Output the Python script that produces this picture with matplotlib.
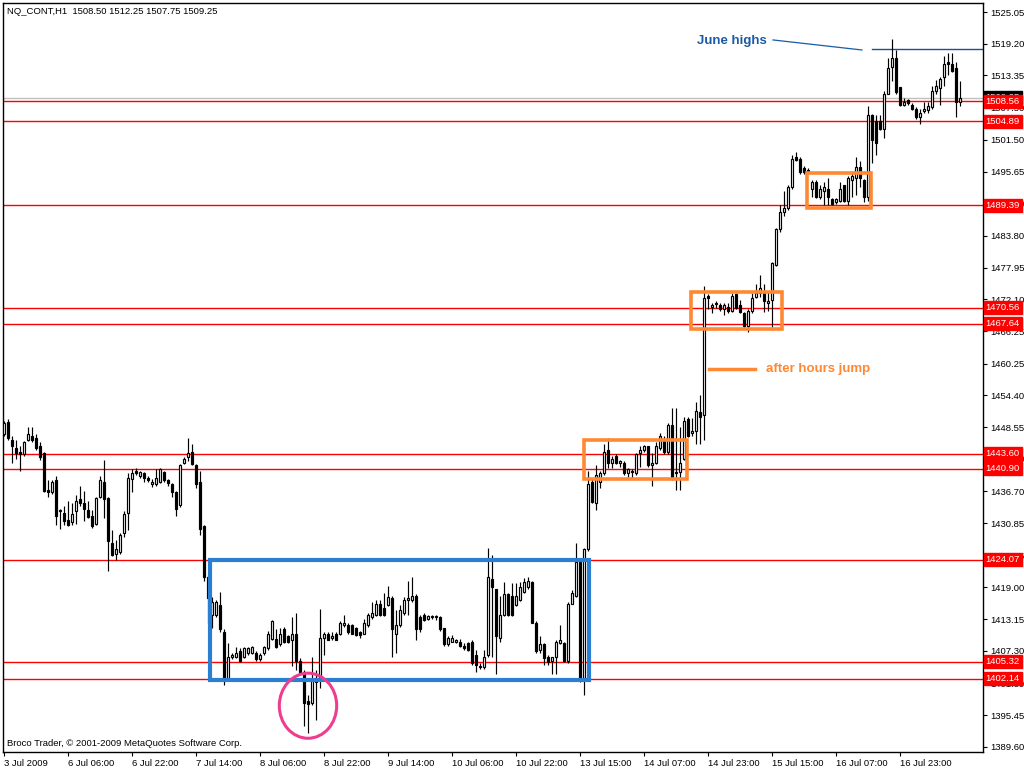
import numpy as np
import matplotlib
matplotlib.use('Agg')
import matplotlib.pyplot as plt
from matplotlib.patches import Rectangle, Ellipse

# hourly OHLC bars, oldest first
opens = [
    1447.25, 1449.5, 1446.25, 1444.75, 1444.0, 1443.5, 1446.25, 1447.0, 1446.5, 1445.0,
    1443.75, 1437.0, 1436.5, 1438.75, 1433.0, 1432.75, 1431.5, 1431.0, 1433.0, 1435.25,
    1434.5, 1433.25, 1432.25, 1430.75, 1435.75, 1438.5, 1435.5, 1427.25, 1425.25, 1425.5,
    1429.0, 1432.75, 1439.0, 1440.5, 1439.5, 1440.0, 1439.25, 1438.0, 1438.0, 1438.5,
    1440.25, 1438.75, 1438.0, 1436.5, 1434.25, 1442.0, 1443.0, 1444.0, 1441.5, 1438.5,
    1430.25, 1421.0, 1414.0, 1414.0, 1415.75, 1410.75, 1402.25, 1406.25, 1406.25, 1407.25,
    1406.25, 1407.0, 1407.0, 1407.0, 1405.75, 1407.0, 1407.75, 1409.5, 1409.5, 1408.5,
    1411.25, 1410.0, 1409.25, 1410.5, 1405.5, 1403.5, 1398.0, 1397.75, 1401.5, 1402.0,
    1409.75, 1410.5, 1409.75, 1410.5, 1410.5, 1412.0, 1412.0, 1412.0, 1411.5, 1410.75,
    1410.5, 1412.0, 1413.5, 1414.0, 1416.0, 1415.25, 1415.75, 1417.0, 1410.5, 1412.0,
    1414.25, 1416.75, 1416.75, 1417.5, 1413.5, 1414.0, 1413.25, 1413.5, 1413.5, 1413.5,
    1411.5, 1408.5, 1409.0, 1409.0, 1409.0, 1408.25, 1408.75, 1409.0, 1406.5, 1404.5,
    1404.25, 1406.5, 1420.5, 1418.75, 1409.75, 1414.0, 1417.75, 1417.5, 1415.75, 1416.75,
    1418.25, 1419.0, 1420.0, 1412.5, 1407.5, 1408.5, 1406.25, 1405.5, 1406.25, 1408.75,
    1408.75, 1405.5, 1416.0, 1417.5, 1423.75, 1402.25, 1426.0, 1438.5, 1434.5, 1438.5,
    1440.0, 1444.25, 1442.0, 1443.25, 1442.0, 1442.0, 1440.0, 1440.25, 1440.0, 1443.75,
    1444.25, 1445.0, 1441.5, 1442.0, 1444.75, 1446.0, 1444.0, 1449.0, 1440.0, 1440.25,
    1442.75, 1450.0, 1447.5, 1447.75, 1451.25, 1450.75, 1472.75, 1470.75, 1471.25, 1471.0,
    1470.25, 1470.75, 1470.0, 1473.0, 1471.0, 1469.5, 1467.25, 1470.0, 1472.5, 1473.25,
    1473.25, 1471.5, 1472.0, 1478.5, 1485.0, 1488.25, 1489.0, 1492.75, 1498.25, 1498.0,
    1496.25, 1496.0, 1492.5, 1493.75, 1491.0, 1492.0, 1492.5, 1490.5, 1490.0, 1490.25,
    1493.25, 1490.25, 1494.0, 1494.5, 1496.5, 1494.0, 1491.0, 1506.0, 1505.0, 1505.0,
    1503.5, 1510.0, 1515.0, 1516.5, 1511.25, 1508.0, 1508.75, 1508.0, 1507.25, 1505.75,
    1506.75, 1507.0, 1507.5, 1510.5, 1511.0, 1513.0, 1515.75, 1515.5, 1514.75, 1508.5,
]
highs = [
    1449.75, 1450.0, 1447.0, 1446.25, 1445.0, 1446.0, 1448.5, 1448.5, 1447.25, 1445.75,
    1444.0, 1438.75, 1438.75, 1439.5, 1433.5, 1434.0, 1435.0, 1434.5, 1436.0, 1437.75,
    1436.75, 1435.0, 1433.25, 1435.75, 1439.5, 1442.5, 1435.75, 1429.5, 1427.75, 1429.0,
    1433.0, 1440.0, 1440.75, 1441.0, 1440.5, 1440.25, 1439.5, 1439.0, 1440.75, 1441.0,
    1440.5, 1439.0, 1438.25, 1436.75, 1441.75, 1443.0, 1446.5, 1445.5, 1441.75, 1440.5,
    1430.5, 1421.25, 1417.25, 1416.75, 1418.25, 1411.25, 1408.75, 1407.0, 1408.0, 1407.75,
    1408.0, 1408.0, 1408.25, 1407.25, 1407.0, 1408.25, 1411.0, 1413.0, 1411.25, 1411.5,
    1411.75, 1410.25, 1413.5, 1414.25, 1406.0, 1403.75, 1399.25, 1406.25, 1403.75, 1415.0,
    1410.75, 1410.75, 1410.75, 1410.75, 1412.75, 1414.0, 1412.5, 1412.25, 1411.75, 1411.0,
    1413.25, 1414.25, 1416.25, 1416.75, 1416.75, 1418.0, 1419.25, 1417.5, 1414.75, 1415.75,
    1417.25, 1420.25, 1421.0, 1417.75, 1414.0, 1414.25, 1414.0, 1414.0, 1414.0, 1413.75,
    1411.5, 1410.0, 1410.25, 1409.5, 1409.5, 1408.75, 1409.0, 1409.25, 1407.5, 1405.0,
    1407.5, 1426.25, 1425.0, 1418.75, 1417.5, 1420.0, 1418.0, 1419.75, 1419.75, 1420.0,
    1420.75, 1421.0, 1420.25, 1412.75, 1410.0, 1408.75, 1406.5, 1406.25, 1409.25, 1412.0,
    1409.0, 1416.25, 1418.5, 1427.25, 1424.0, 1426.25, 1440.5, 1439.25, 1441.5, 1440.5,
    1445.5, 1446.5, 1443.25, 1443.5, 1442.5, 1442.25, 1441.0, 1440.75, 1443.75, 1445.0,
    1445.25, 1445.0, 1443.75, 1445.75, 1447.5, 1447.0, 1449.25, 1452.0, 1452.0, 1448.5,
    1450.5, 1450.5, 1450.25, 1453.25, 1454.5, 1474.5, 1473.0, 1471.5, 1471.75, 1471.5,
    1471.5, 1471.5, 1473.25, 1473.25, 1472.0, 1469.75, 1470.25, 1473.25, 1475.0, 1476.5,
    1475.0, 1473.5, 1479.0, 1485.25, 1489.5, 1492.0, 1493.25, 1498.75, 1499.25, 1498.25,
    1496.75, 1496.25, 1494.0, 1494.0, 1493.25, 1493.75, 1494.5, 1490.75, 1490.75, 1493.75,
    1493.25, 1494.75, 1495.5, 1498.25, 1497.5, 1494.25, 1507.75, 1506.25, 1506.0, 1506.0,
    1510.5, 1516.5, 1520.0, 1518.0, 1511.25, 1509.25, 1509.0, 1508.25, 1507.5, 1507.25,
    1508.5, 1508.5, 1511.5, 1512.5, 1513.0, 1517.0, 1517.5, 1517.5, 1515.75, 1512.25,
]
lows = [
    1447.0, 1446.25, 1442.0, 1442.75, 1440.5, 1443.25, 1446.0, 1445.75, 1444.25, 1442.5,
    1436.5, 1435.75, 1436.25, 1430.5, 1429.75, 1430.5, 1430.25, 1430.5, 1430.75, 1434.0,
    1431.25, 1431.75, 1430.0, 1430.5, 1435.5, 1431.75, 1422.0, 1424.75, 1424.0, 1425.25,
    1428.25, 1429.5, 1436.5, 1439.75, 1439.25, 1438.5, 1438.5, 1437.5, 1437.75, 1438.25,
    1438.5, 1437.75, 1435.75, 1432.25, 1433.75, 1441.75, 1442.25, 1441.5, 1437.25, 1428.75,
    1420.25, 1412.5, 1411.5, 1413.5, 1410.75, 1401.0, 1402.0, 1405.75, 1406.0, 1405.25,
    1406.0, 1406.5, 1406.75, 1405.5, 1405.5, 1406.5, 1407.5, 1409.25, 1407.75, 1408.25,
    1408.75, 1408.75, 1404.5, 1403.75, 1403.25, 1393.5, 1392.25, 1397.25, 1394.5, 1400.5,
    1406.5, 1409.25, 1409.25, 1409.25, 1410.25, 1411.75, 1410.5, 1410.5, 1410.0, 1409.75,
    1410.5, 1411.75, 1413.25, 1413.75, 1413.75, 1413.75, 1415.5, 1406.25, 1407.0, 1411.75,
    1414.0, 1414.0, 1416.25, 1409.25, 1410.75, 1412.75, 1413.0, 1413.25, 1413.0, 1411.0,
    1408.25, 1408.25, 1409.0, 1408.75, 1408.0, 1407.5, 1407.25, 1404.75, 1403.5, 1404.0,
    1404.0, 1406.25, 1406.25, 1403.0, 1409.0, 1413.75, 1413.75, 1413.75, 1415.5, 1416.5,
    1418.0, 1418.75, 1412.5, 1407.0, 1407.0, 1404.75, 1404.75, 1403.0, 1403.0, 1408.5,
    1405.25, 1405.0, 1416.0, 1417.25, 1401.5, 1399.25, 1425.75, 1434.5, 1433.25, 1437.25,
    1439.75, 1441.0, 1441.0, 1441.75, 1441.25, 1439.75, 1439.25, 1439.25, 1439.75, 1441.25,
    1444.0, 1441.25, 1437.75, 1441.75, 1444.25, 1443.5, 1443.5, 1438.75, 1437.0, 1437.0,
    1442.5, 1446.75, 1447.0, 1445.5, 1445.5, 1446.25, 1470.25, 1469.5, 1470.5, 1470.0,
    1469.25, 1469.5, 1469.75, 1470.25, 1469.5, 1467.0, 1466.0, 1469.5, 1472.25, 1472.5,
    1469.75, 1470.0, 1467.0, 1478.25, 1484.5, 1487.5, 1488.5, 1492.5, 1497.5, 1495.25,
    1495.25, 1495.25, 1491.0, 1490.75, 1490.5, 1489.5, 1489.5, 1489.5, 1489.75, 1490.0,
    1490.0, 1489.5, 1491.0, 1491.25, 1492.75, 1490.0, 1490.25, 1497.25, 1498.75, 1503.25,
    1501.75, 1510.0, 1512.25, 1510.0, 1507.75, 1507.75, 1508.0, 1507.0, 1505.25, 1504.5,
    1506.5, 1506.5, 1507.25, 1510.0, 1508.0, 1511.5, 1513.5, 1514.0, 1505.75, 1507.75,
]
closes = [
    1449.25, 1446.5, 1445.0, 1443.75, 1443.5, 1445.75, 1447.25, 1446.25, 1444.75, 1443.0,
    1436.75, 1436.5, 1438.5, 1432.25, 1433.25, 1431.25, 1430.5, 1432.5, 1435.0, 1434.5,
    1433.5, 1432.0, 1430.25, 1435.5, 1438.75, 1435.25, 1427.5, 1425.0, 1426.0, 1428.75,
    1432.5, 1439.25, 1440.0, 1440.0, 1440.25, 1439.25, 1438.75, 1438.5, 1439.25, 1440.75,
    1438.75, 1438.25, 1436.5, 1433.5, 1441.5, 1442.75, 1443.75, 1441.75, 1438.0, 1429.75,
    1421.0, 1417.0, 1416.25, 1416.25, 1411.25, 1402.25, 1406.25, 1406.5, 1407.0, 1405.5,
    1407.75, 1407.75, 1408.0, 1405.75, 1406.5, 1408.0, 1410.5, 1412.75, 1408.0, 1410.5,
    1409.0, 1409.0, 1410.5, 1405.5, 1403.5, 1397.75, 1397.5, 1402.0, 1402.25, 1409.75,
    1410.5, 1409.25, 1410.0, 1409.25, 1412.5, 1412.5, 1410.75, 1410.5, 1410.25, 1410.25,
    1412.5, 1414.0, 1414.25, 1416.0, 1414.0, 1414.0, 1417.25, 1411.25, 1412.0, 1414.75,
    1416.75, 1417.0, 1417.5, 1411.25, 1411.25, 1413.0, 1413.75, 1413.75, 1413.75, 1411.25,
    1408.5, 1409.75, 1409.75, 1409.25, 1408.25, 1407.75, 1407.5, 1405.0, 1404.75, 1404.25,
    1406.25, 1421.0, 1419.0, 1410.0, 1414.0, 1417.75, 1414.0, 1414.0, 1417.5, 1419.0,
    1420.0, 1420.25, 1412.5, 1407.25, 1408.5, 1406.0, 1405.25, 1406.25, 1409.0, 1409.25,
    1405.5, 1416.0, 1418.0, 1423.75, 1402.0, 1426.0, 1438.0, 1434.75, 1439.75, 1440.0,
    1444.0, 1442.0, 1442.75, 1442.0, 1442.25, 1440.0, 1440.75, 1440.5, 1443.5, 1444.25,
    1445.0, 1441.5, 1442.0, 1445.0, 1447.0, 1444.0, 1449.0, 1439.25, 1440.25, 1442.0,
    1449.75, 1447.0, 1447.75, 1451.5, 1450.5, 1472.25, 1472.25, 1471.0, 1471.5, 1470.25,
    1471.0, 1470.0, 1472.75, 1470.5, 1469.75, 1467.25, 1470.0, 1472.25, 1473.25, 1474.25,
    1471.75, 1471.75, 1478.75, 1485.0, 1488.25, 1489.0, 1492.75, 1498.0, 1497.75, 1495.5,
    1495.5, 1495.5, 1493.75, 1491.0, 1492.5, 1492.75, 1491.0, 1489.75, 1490.5, 1492.5,
    1490.25, 1494.5, 1494.75, 1496.5, 1494.5, 1491.0, 1506.0, 1501.5, 1501.0, 1503.5,
    1510.0, 1514.75, 1516.5, 1510.25, 1508.0, 1508.5, 1508.25, 1507.25, 1505.75, 1506.5,
    1507.25, 1507.75, 1510.5, 1511.5, 1512.75, 1515.5, 1515.5, 1514.25, 1508.5, 1509.25,
]

time_labels = ['3 Jul 2009', '6 Jul 06:00', '6 Jul 22:00', '7 Jul 14:00', '8 Jul 06:00',
               '8 Jul 22:00', '9 Jul 14:00', '10 Jul 06:00', '10 Jul 22:00', '13 Jul 15:00',
               '14 Jul 07:00', '14 Jul 23:00', '15 Jul 15:00', '16 Jul 07:00', '16 Jul 23:00']
price_ticks = [1525.05, 1519.20, 1513.35, 1507.50, 1501.50, 1495.65, 1489.80, 1483.80,
               1477.95, 1472.10, 1466.25, 1460.25, 1454.40, 1448.55, 1442.70, 1436.70,
               1430.85, 1424.85, 1419.00, 1413.15, 1407.30, 1401.30, 1395.45, 1389.60]
red_levels = [1508.56, 1504.89, 1489.39, 1470.56, 1467.64, 1443.60, 1440.90, 1424.07,
              1405.32, 1402.14]
june_high = 1518.17
last_price = 1509.25
header = 'NQ_CONT,H1  1508.50 1512.25 1507.75 1509.25'
footer = 'Broco Trader, \u00a9 2001-2009 MetaQuotes Software Corp.'

ORANGE = '#ff8833'
BLUE_BOX = '#2b7fd3'
NOTE_BLUE = '#1b5aa5'

plt.rcParams['font.family'] = ['Liberation Sans', 'DejaVu Sans']

fig = plt.figure(figsize=(10.24, 7.68), dpi=100)
ax = fig.add_axes([3 / 1024, 16 / 768, 980 / 1024, 749 / 768])

o = np.array(opens)
h = np.array(highs)
l = np.array(lows)
c = np.array(closes)
idx = np.arange(len(o))
up = c >= o

# candles: wick first, bodies on top (white bodies hide the wick)
ax.vlines(idx, l, h, color='black', lw=0.85, zorder=3)
ax.bar(idx[up], (c - o)[up], bottom=o[up], width=0.52, color='white',
       edgecolor='black', linewidth=0.85, zorder=4)
ax.bar(idx[~up], (o - c)[~up], bottom=c[~up], width=0.52, color='black',
       edgecolor='black', linewidth=0.85, zorder=4)

# horizontal levels
ax.axhline(last_price, color='#c0c0c0', lw=1, zorder=1)
for lv in red_levels:
    ax.axhline(lv, color='red', lw=1, zorder=2)

ax.set_xlim(-0.25, 244.75)
ax.set_ylim(1388.67, 1526.71)

# axes / ticks MT4 style
ax.yaxis.tick_right()
ax.set_yticks(price_ticks)
ax.set_yticklabels(['%.2f' % v for v in price_ticks])
ax.tick_params(axis='y', direction='out', length=3, width=0.8, labelsize=6.8, pad=2)
ax.set_xticks(np.arange(0, 16 * len(time_labels), 16))
ax.set_xticklabels(time_labels)
ax.tick_params(axis='x', direction='out', length=3, width=0.8, labelsize=6.8, pad=2)
for lbl in ax.get_xticklabels():
    lbl.set_horizontalalignment('left')
for sp in ax.spines.values():
    sp.set_linewidth(1)

# price labels on the right axis (they sit over the scale like in the terminal)
ax.annotate('%.2f' % last_price, xy=(1.0, last_price), xycoords=('axes fraction', 'data'),
            xytext=(2, 0), textcoords='offset points', ha='left', va='center',
            fontsize=6.8, color='white', zorder=6,
            bbox=dict(boxstyle='square,pad=0.22', fc='black', ec='black'))
for lv in red_levels:
    ax.annotate('%.2f' % lv, xy=(1.0, lv), xycoords=('axes fraction', 'data'),
                xytext=(2, 0), textcoords='offset points', ha='left', va='center',
                fontsize=6.8, color='white', zorder=7,
                bbox=dict(boxstyle='square,pad=0.22', fc='red', ec='red'))

# consolidation boxes
ax.add_patch(Rectangle((51.4, 1402.0), 146.25 - 51.4, 1424.05 - 1402.0, fill=False,
                       ec=BLUE_BOX, lw=3, zorder=5))
for x0, x1, y0, y1 in [(145.1, 170.75, 1439.0, 1446.15),
                       (171.75, 194.5, 1466.6, 1473.4),
                       (200.7, 216.75, 1489.0, 1495.3)]:
    ax.add_patch(Rectangle((x0, y0), x1 - x0, y1 - y0, fill=False, ec=ORANGE, lw=2.6, zorder=5))

ax.add_patch(Ellipse((76, 1397.2), 14.35, 12.0, fill=False, ec='#ee3d8e', lw=2.2, zorder=5))

# notes
ax.plot([176.3, 187.75], [1459.25, 1459.25], color=ORANGE, lw=2.5, zorder=5)
ax.text(190.5, 1459.25, 'after hours jump', color=ORANGE, fontsize=9.5,
        fontweight='bold', va='center', ha='left')
ax.text(173.25, 1519.75, 'June highs', color=NOTE_BLUE, fontsize=9.5,
        fontweight='bold', va='center', ha='left')
ax.plot([192.25, 214.5], [1519.9, 1518.05], color=NOTE_BLUE, lw=0.9)
ax.plot([217, 244.75], [june_high, june_high], color='#1f4f8f', lw=1)

fig.text(7 / 1024, 1 - 11 / 768, header, fontsize=6.8, va='center', ha='left')
fig.text(7 / 1024, 1 - 743 / 768, footer, fontsize=6.8, va='center', ha='left')

fig.savefig('out.png', dpi=100)
